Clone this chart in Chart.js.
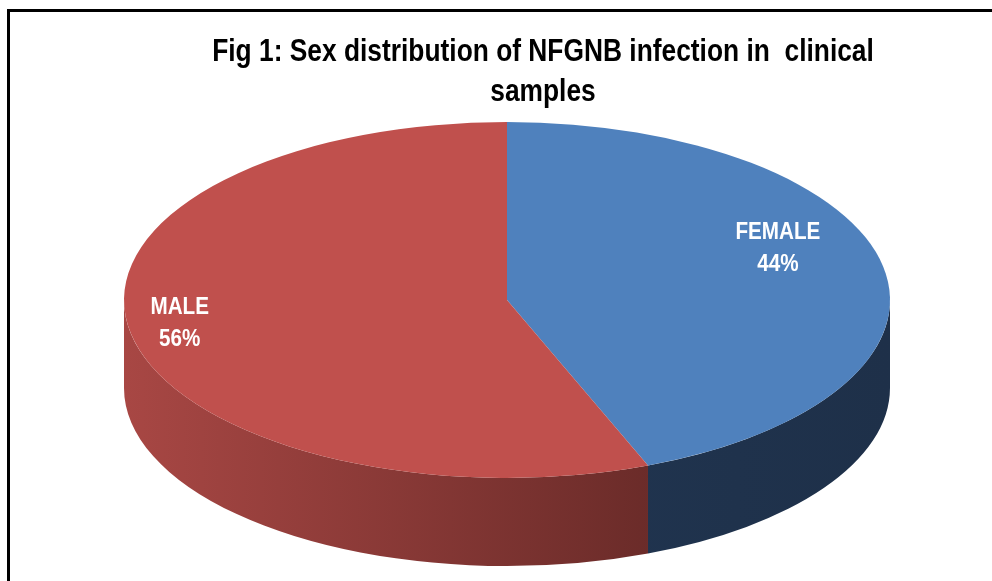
<!DOCTYPE html>
<html>
<head>
<meta charset="utf-8">
<script src="https://cdn.jsdelivr.net/npm/chart.js@4.4.1/dist/chart.umd.min.js"></script>
<style>
    html, body { margin: 0; padding: 0; background: #fff; }
    #wrap { position: relative; width: 992px; height: 581px; overflow: hidden; }
    #frame { position: absolute; left: 7px; top: 9px; width: 990px; height: 600px;
             border-left: 3px solid #000; border-top: 3px solid #000; box-sizing: border-box; }
    #title { position: absolute; left: 143px; width: 800px; top: 31px; text-align: center;
             font-family: "Liberation Sans", Arial, sans-serif;
             font-weight: bold; font-size: 31px; line-height: 40px; color: #000;
             transform: scaleX(0.85); transform-origin: 400px 0; white-space: nowrap; }
    canvas { position: absolute; left: 0; top: 0; }
</style>
</head>
<body>
<div id="wrap">
    <div id="frame"></div>
    <canvas id="chartSexo" width="992" height="581"></canvas>
    <div id="title">Fig 1: Sex distribution of NFGNB infection in&nbsp; clinical<br>samples</div>
</div>
<script>
// Datos
const categorias = ['FEMALE', 'MALE'];
const porcentajes = [44, 56];
const coloresTapa = ['#4F81BD', '#C0504D'];
const coloresLadoClaro = ['#233a58', '#a84744'];
const coloresLadoOscuro = ['#1e3049', '#4f1f1d'];

// Geometria de la elipse (x estirado desde el circulo de Chart.js)
const ESCALA_X = 383 / 178;
const PROFUNDIDAD = 88;
const etiquetaRadio = [0.72, 0.87];
const etiquetaDy = [-28, -6];

const pie3d = {
    id: 'pie3d',
    beforeDatasetsDraw(chart) {
        const ctx = chart.ctx;
        const meta = chart.getDatasetMeta(0);
        const arc0 = meta.data[0];
        const cx = arc0.x, cy = arc0.y;
        ctx.save();
        ctx.translate(cx, cy);
        ctx.scale(ESCALA_X, 1);
        ctx.translate(-cx, -cy);

        // paredes laterales (solo la mitad frontal, angulos 0..PI)
        meta.data.forEach((arc, i) => {
            const r = arc.outerRadius;
            let a0 = arc.startAngle, a1 = arc.endAngle;
            const TAU = Math.PI * 2;
            while (a0 < 0) { a0 += TAU; a1 += TAU; }
            const tramos = [[a0, a1], [a0 - TAU, a1 - TAU], [a0 + TAU, a1 + TAU]];
            tramos.forEach(([s, e]) => {
                const s2 = Math.max(s, 0), e2 = Math.min(e, Math.PI);
                if (e2 <= s2) return;
                const grad = ctx.createLinearGradient(cx - r, 0, cx + r, 0);
                grad.addColorStop(0, coloresLadoClaro[i]);
                grad.addColorStop(1, coloresLadoOscuro[i]);
                ctx.beginPath();
                ctx.arc(cx, cy, r, s2, e2);
                ctx.lineTo(cx + r * Math.cos(e2), cy + PROFUNDIDAD + r * Math.sin(e2));
                ctx.arc(cx, cy + PROFUNDIDAD, r, e2, s2, true);
                ctx.closePath();
                ctx.fillStyle = grad;
                ctx.fill();
            });
        });
    },
    afterDatasetsDraw(chart) {
        const ctx = chart.ctx;
        ctx.restore();
        const meta = chart.getDatasetMeta(0);
        meta.data.forEach((arc, i) => {
            const mid = (arc.startAngle + arc.endAngle) / 2;
            const rr = arc.outerRadius * etiquetaRadio[i];
            const x = arc.x + rr * Math.cos(mid) * ESCALA_X;
            const y = arc.y + rr * Math.sin(mid) + etiquetaDy[i];
            ctx.save();
            ctx.translate(x, y);
            ctx.scale(0.86, 1);
            ctx.fillStyle = '#ffffff';
            ctx.font = 'bold 24px "Liberation Sans", Arial, sans-serif';
            ctx.textAlign = 'center';
            ctx.textBaseline = 'middle';
            ctx.fillText(categorias[i], 0, -16);
            ctx.fillText(porcentajes[i] + '%', 0, 16);
            ctx.restore();
        });
    }
};

new Chart(document.getElementById('chartSexo'), {
    type: 'pie',
    data: {
        labels: categorias,
        datasets: [{
            data: porcentajes,
            backgroundColor: coloresTapa,
            borderWidth: 0
        }]
    },
    options: {
        responsive: false,
        animation: false,
        layout: { padding: { top: 122, bottom: 103, left: 22, right: 0 } },
        plugins: {
            legend: { display: false },
            tooltip: { enabled: false },
            title: { display: false }
        }
    },
    plugins: [pie3d]
});
</script>
</body>
</html>
